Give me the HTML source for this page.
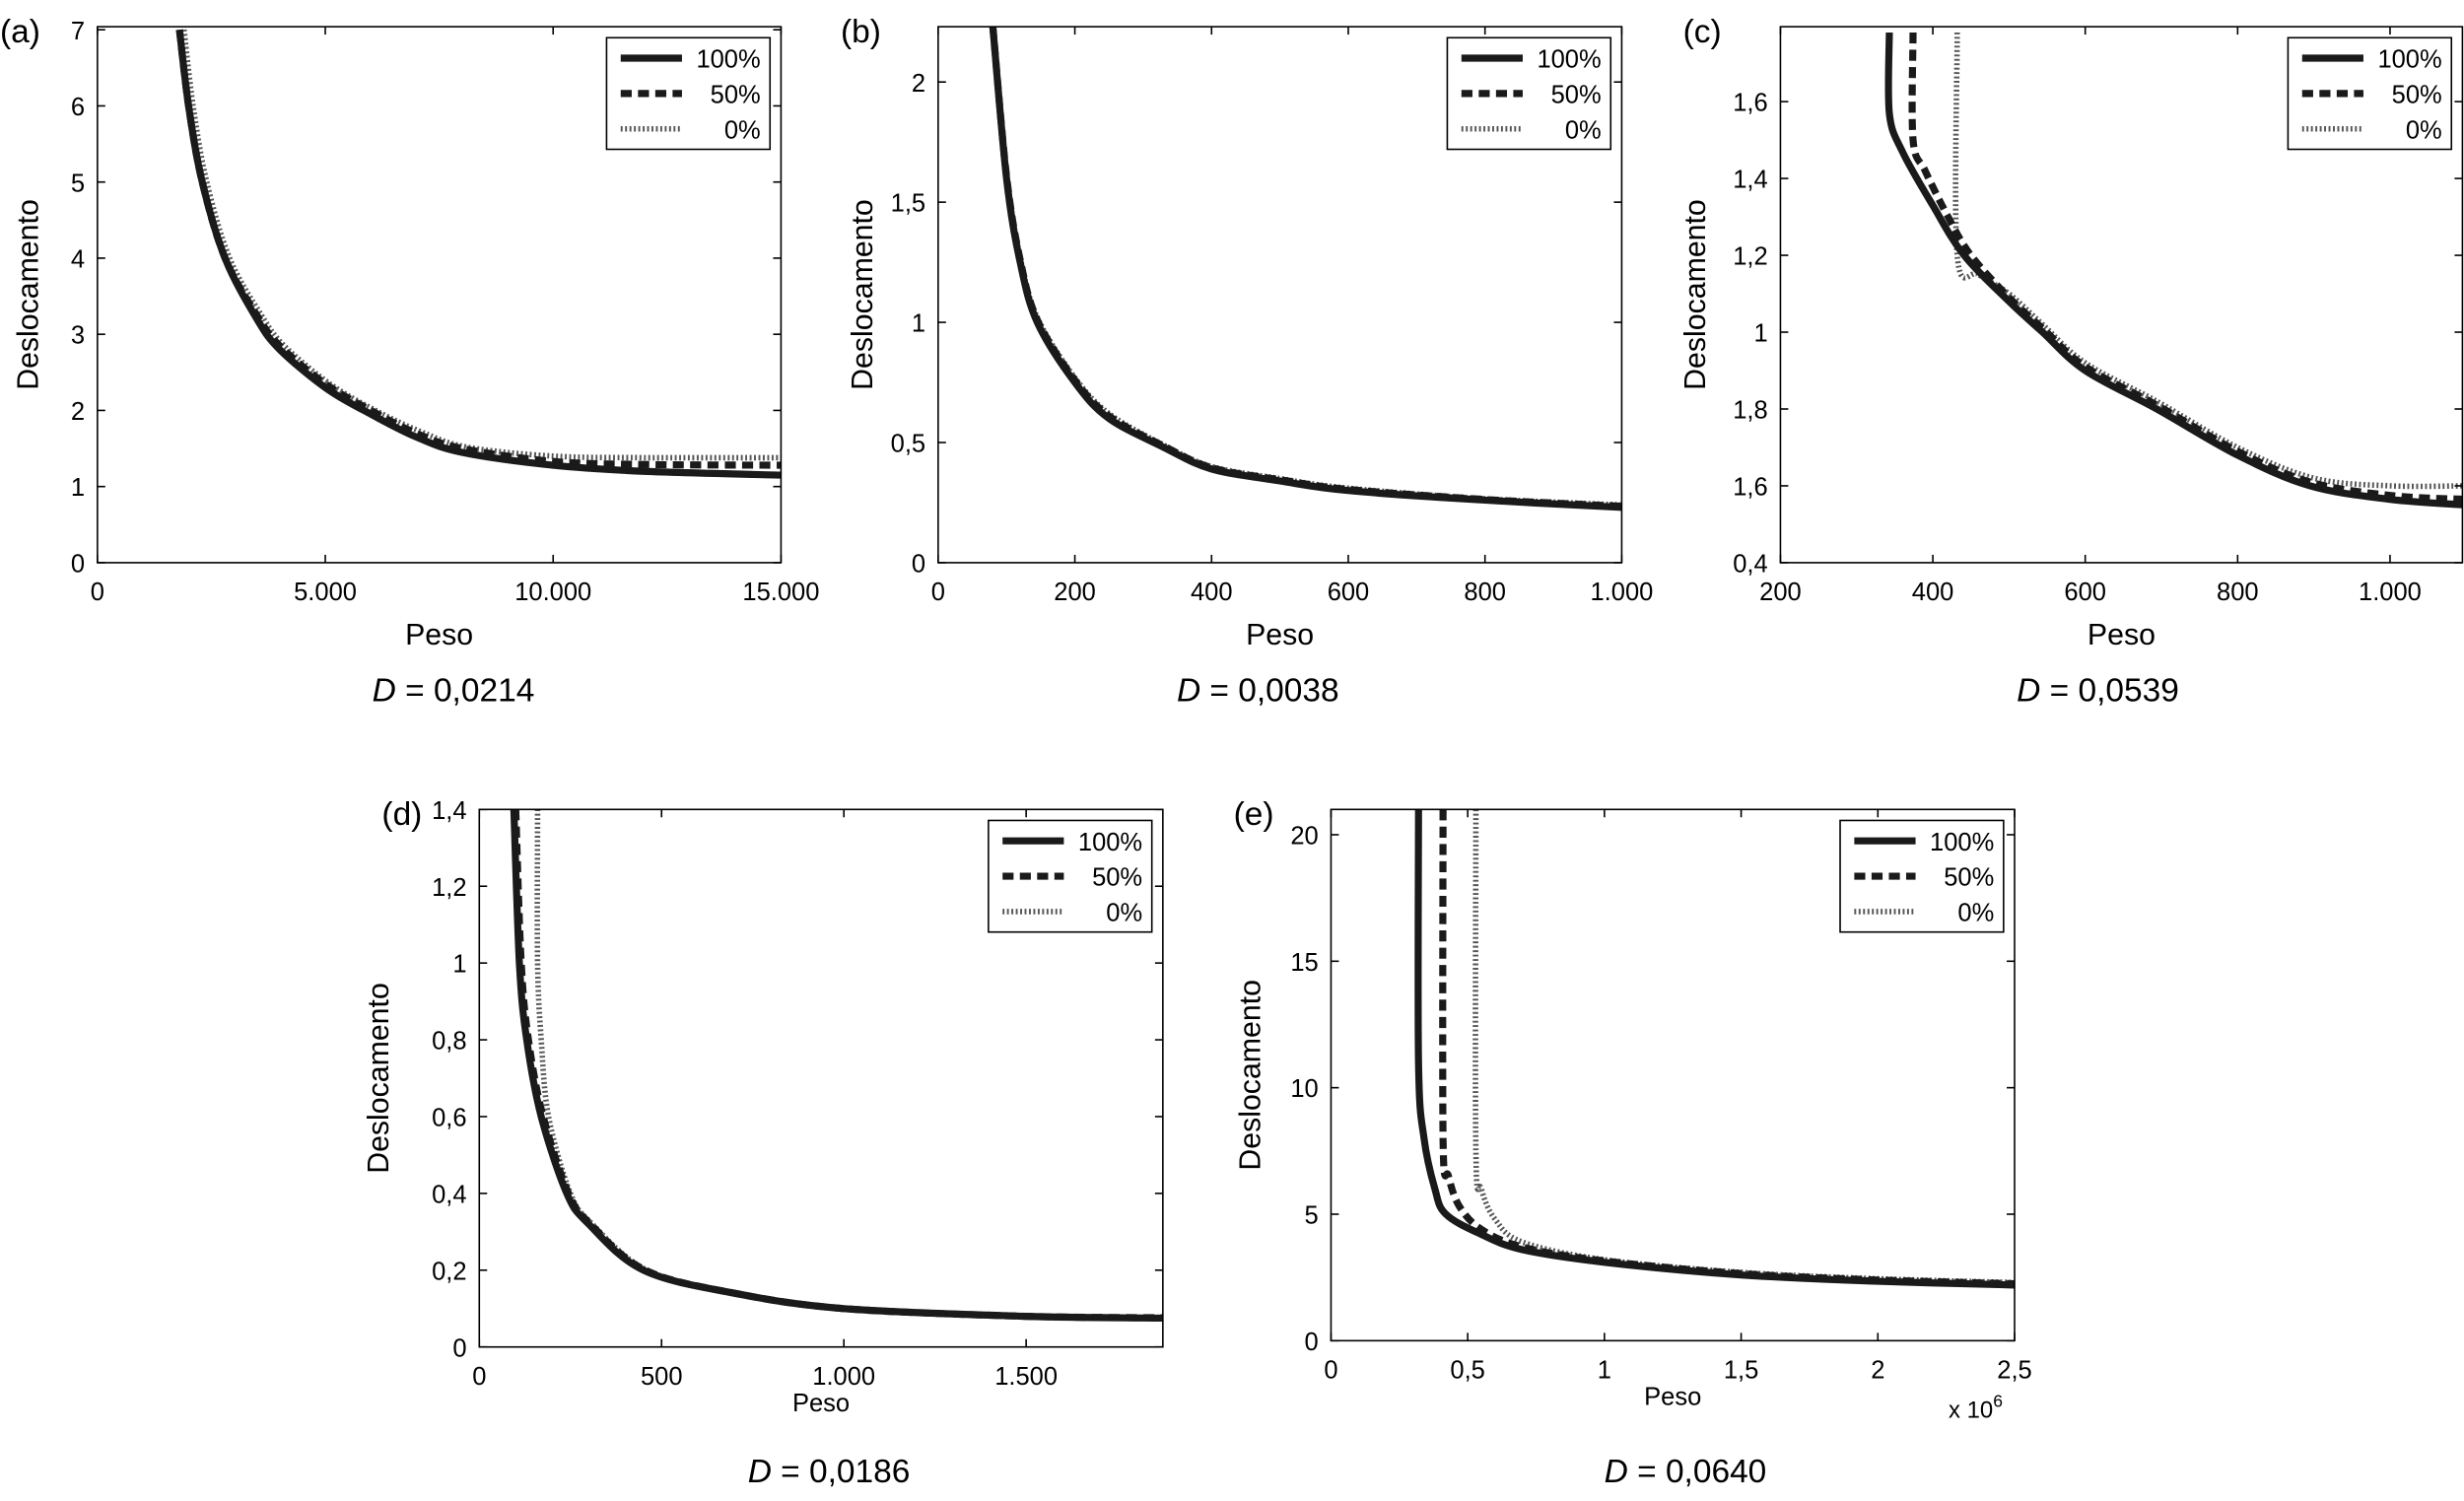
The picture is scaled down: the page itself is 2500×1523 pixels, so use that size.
<!DOCTYPE html>
<html><head><meta charset="utf-8"><style>
html,body{margin:0;padding:0;background:#fff}
svg{display:block;font-family:"Liberation Sans",sans-serif}
</style></head><body>
<svg id="fig" width="2500" height="1523" viewBox="0 0 1568 955" preserveAspectRatio="none" xmlns="http://www.w3.org/2000/svg"></svg>
<script>
// Panel (a)
const aX100=[1800,2000,2300,2800,3500,4000,5000,6000,7000,8000,10000,12000,15000];
const aY100=[7,6,5,4,3.2,2.8,2.3,1.95,1.65,1.45,1.28,1.2,1.15];
const aX50=[1800,2000,2300,2800,3500,4000,5000,6000,7000,8000,10000,12000,15000];
const aY50=[7,6,5,4,3.25,2.85,2.35,2.0,1.7,1.5,1.33,1.29,1.28];
const aX0=[1900,2100,2400,2900,3600,4100,5100,6100,7100,8100,10000,12000,15000];
const aY0=[7,6,5,4,3.25,2.85,2.35,2.0,1.72,1.52,1.4,1.38,1.38];
const aXT=[0,5000,10000,15000],aXL=["0","5.000","10.000","15.000"];
const aYT=[0,1,2,3,4,5,6,7],aYL=["0","1","2","3","4","5","6","7"];
// Panel (b)
const bX=[80,100,120,145,200,250,330,400,500,600,800,1000];
const bY100=[2.23,1.6,1.25,1.0,0.75,0.6,0.48,0.39,0.34,0.3,0.26,0.23];
const bY50=[2.23,1.61,1.26,1.01,0.76,0.61,0.485,0.395,0.345,0.305,0.263,0.235];
const bY0=[2.23,1.62,1.27,1.02,0.77,0.62,0.49,0.4,0.35,0.31,0.266,0.24];
const bXT=[0,200,400,600,800,1000],bXL=["0","200","400","600","800","1.000"];
const bYT=[0,0.5,1,1.5,2],bYL=["0","0,5","1","1,5","2"];
// Panel (c)
const cX100=[343,343,360,400,441,500,544,600,694,800,895,1000,1100];
const cY100=[1.78,1.57,1.47,1.33,1.2,1.08,1.0,0.9,0.8,0.68,0.6,0.565,0.55];
const cX50=[374,374,390,420,450,500,544,600,694,800,895,1000,1100];
const cY50=[1.78,1.5,1.42,1.3,1.2,1.09,1.01,0.91,0.81,0.69,0.61,0.575,0.565];
const cX0=[432,432,460,500,544,600,694,800,900,1000,1100];
const cY0=[1.78,1.2,1.15,1.1,1.02,0.92,0.82,0.7,0.62,0.6,0.6];
const cXT=[200,400,600,800,1000],cXL=["200","400","600","800","1.000"];
const cYT=[0.4,0.6,0.8,1,1.2,1.4,1.6],cYL=["0,4","1,6","1,8","1","1,2","1,4","1,6"];
// Panel (d)
const dX100=[95,110,130,170,240,300,450,700,1000,1500,1900];
const dY100=[1.4,1.0,0.8,0.6,0.4,0.32,0.2,0.14,0.1,0.08,0.075];
const dX50=[100,115,135,175,245,305,455,700,1000,1500,1900];
const dY50=[1.4,1.0,0.8,0.6,0.4,0.32,0.2,0.14,0.1,0.08,0.076];
const dX0=[160,160,170,190,250,310,460,700,1000,1500,1900];
const dY0=[1.4,1.0,0.8,0.6,0.4,0.32,0.2,0.14,0.1,0.08,0.077];
const dXT=[0,500,1000,1500],dXL=["0","500","1.000","1.500"];
const dYT=[0,0.2,0.4,0.6,0.8,1,1.2,1.4],dYL=["0","0,2","0,4","0,6","0,8","1","1,2","1,4"];
// Panel (e)
const eX100=[320000,320000,340000,380000,420000,550000,700000,1000000,1500000,2000000,2500000];
const eY100=[21,11,8,6,5,4.2,3.6,3.1,2.6,2.35,2.2];
const eX50=[410000,410000,430000,470000,550000,700000,1000000,1500000,2000000,2500000];
const eY50=[21,8,6.5,5.3,4.4,3.7,3.15,2.65,2.4,2.25];
const eX0=[530000,530000,550000,600000,700000,1000000,1500000,2000000,2500000];
const eY0=[21,7.5,6,4.8,3.9,3.2,2.7,2.45,2.3];
const eXT=[0,500000,1000000,1500000,2000000,2500000],eXL=["0","0,5","1","1,5","2","2,5"];
const eYT=[0,5,10,15,20],eYL=["0","5","10","15","20"];

const NS="http://www.w3.org/2000/svg";
const svg=document.getElementById('fig');
function el(tag,attrs,parent,text){const e=document.createElementNS(NS,tag);for(const k in attrs)e.setAttribute(k,attrs[k]);if(text!==undefined)e.textContent=text;(parent||svg).appendChild(e);return e;}
const styles={s100:{stroke:"#1a1a1a","stroke-width":4.5},s50:{stroke:"#1a1a1a","stroke-width":4.5,"stroke-dasharray":"7 4"},s0:{stroke:"#555","stroke-width":3.5,"stroke-dasharray":"1.2 1.6"}};

function smooth(P){
  let d='M'+P[0][0].toFixed(1)+' '+P[0][1].toFixed(1);
  for(let i=0;i<P.length-1;i++){
    const p0=P[Math.max(0,i-1)],p1=P[i],p2=P[i+1],p3=P[Math.min(P.length-1,i+2)];
    const c1=[p1[0]+(p2[0]-p0[0])/6,p1[1]+(p2[1]-p0[1])/6];
    const c2=[p2[0]-(p3[0]-p1[0])/6,p2[1]-(p3[1]-p1[1])/6];
    d+=' C'+c1.map(v=>v.toFixed(1)).join(' ')+' '+c2.map(v=>v.toFixed(1)).join(' ')+' '+p2[0].toFixed(1)+' '+p2[1].toFixed(1);
  }
  return d;
}

function panel(p){
  const g=el('g',{});
  
  
  const sx=v=>p.x0+(v-p.xmin)/(p.xmax-p.xmin)*(p.x1-p.x0);
  const sy=v=>p.y1-(v-p.ymin)/(p.ymax-p.ymin)*(p.y1-p.y0);
  const clip='clip-'+p.id;
  const cp=el('clipPath',{id:clip},g);el('rect',{x:p.x0,y:p.y0,width:p.x1-p.x0,height:p.y1-p.y0},cp);
  p.series.forEach(s=>{
    const pts=s.x.map((v,i)=>[sx(v),sy(s.y[i])]);
    const path=el('path',Object.assign({d:smooth(pts),fill:"none","clip-path":"url(#"+clip+")"},styles[s.st]),g);
    
    
  });
  const box=el('rect',{x:p.x0,y:p.y0,width:p.x1-p.x0,height:p.y1-p.y0,fill:"none",stroke:"#000","stroke-width":1},g);
  
  
  p.xt.forEach((v,i)=>{const X=sx(v);
    el('line',{x1:X,x2:X,y1:p.y1,y2:p.y1-5,stroke:"#000"},g);el('line',{x1:X,x2:X,y1:p.y0,y2:p.y0+5,stroke:"#000"},g);
    const t=el('text',{x:X,y:p.y1+24,"font-size":16,"text-anchor":"middle"},g,p.xl[i]);
    });
  p.yt.forEach((v,i)=>{const Y=sy(v);
    el('line',{x1:p.x0,x2:p.x0+5,y1:Y,y2:Y,stroke:"#000"},g);el('line',{x1:p.x1,x2:p.x1-5,y1:Y,y2:Y,stroke:"#000"},g);
    const t=el('text',{x:p.x0-8,y:Y+6,"font-size":16,"text-anchor":"end"},g,p.yl[i]);
    });
  const xt=el('text',{x:(p.x0+p.x1)/2,y:p.xty,"font-size":p.xtf||19,"text-anchor":"middle"},g,"Peso");
  
  const yc=(p.y0+p.y1)/2, yx=p.x0-p.ytx;
  const yt=el('text',{x:yx,y:yc,"font-size":19,"text-anchor":"middle",transform:`rotate(-90 ${yx} ${yc})`},g,"Deslocamento");
  
  const lb=el('text',{x:p.x0-62,y:p.y0+10,"font-size":21},g,"("+p.id+")");
  
  const dl=el('text',{x:(p.x0+p.x1)/2+p.ddx,y:p.dy,"font-size":21,"text-anchor":"middle"},g);
  
  el('tspan',{"font-style":"italic"},dl,"D");el('tspan',{},dl," = "+p.D);
  const lx=p.x1-111, ly=p.y0+7;
  const lg=el('g',{},g);
  el('rect',{x:lx,y:ly,width:104,height:71,fill:"#fff",stroke:"#000"},lg);
  [["100%","s100"],["50%","s50"],["0%","s0"]].forEach((e,i)=>{const Y=ly+13+i*22.5;
    el('line',Object.assign({x1:lx+9,x2:lx+48,y1:Y,y2:Y},styles[e[1]]),lg);
    const t=el('text',{x:lx+98,y:Y+6,"font-size":16,"text-anchor":"end"},lg,e[0]);
    });
  if(p.exp){const t=el('text',{x:p.x1-42,y:p.y1+49,"font-size":15},g,"x 10");el('tspan',{"font-size":11,dy:-7},t,"6");
    }
}
panel({id:'a',x0:62,x1:497,y0:17,y1:358,xmin:0,xmax:15000,ymin:0,ymax:7.04,xt:aXT,xl:aXL,yt:aYT,yl:aYL,xty:410,ytx:38,dy:446,ddx:9,D:"0,0214",
  series:[{name:'0',st:'s0',x:aX0,y:aY0},{name:'50',st:'s50',x:aX50,y:aY50},{name:'100',st:'s100',x:aX100,y:aY100}]});
panel({id:'b',x0:597,x1:1032,y0:17,y1:358,xmin:0,xmax:1000,ymin:0,ymax:2.23,xt:bXT,xl:bXL,yt:bYT,yl:bYL,xty:410,ytx:42,dy:446,ddx:-14,D:"0,0038",
  series:[{name:'0',st:'s0',x:bX,y:bY0},{name:'50',st:'s50',x:bX,y:bY50},{name:'100',st:'s100',x:bX,y:bY100}]});
panel({id:'c',x0:1133,x1:1567,y0:17,y1:358,xmin:200,xmax:1095,ymin:0.4,ymax:1.795,xt:cXT,xl:cXL,yt:cYT,yl:cYL,xty:410,ytx:48,dy:446,ddx:-15,D:"0,0539",
  series:[{name:'0',st:'s0',x:cX0,y:cY0},{name:'50',st:'s50',x:cX50,y:cY50},{name:'100',st:'s100',x:cX100,y:cY100}]});
panel({id:'d',x0:305,x1:740,y0:515,y1:857,xmin:0,xmax:1875,ymin:0,ymax:1.4,xt:dXT,xl:dXL,yt:dYT,yl:dYL,xty:898,xtf:16,ytx:58,dy:943,ddx:5,D:"0,0186",
  series:[{name:'0',st:'s0',x:dX0,y:dY0},{name:'50',st:'s50',x:dX50,y:dY50},{name:'100',st:'s100',x:dX100,y:dY100}]});
panel({id:'e',x0:847,x1:1282,y0:515,y1:853,xmin:0,xmax:2500000,ymin:0,ymax:21,xt:eXT,xl:eXL,yt:eYT,yl:eYL,xty:894,xtf:16,ytx:45,dy:943,ddx:8,D:"0,0640",exp:true,
  series:[{name:'0',st:'s0',x:eX0,y:eY0},{name:'50',st:'s50',x:eX50,y:eY50},{name:'100',st:'s100',x:eX100,y:eY100}]});
</script>
</body></html>
